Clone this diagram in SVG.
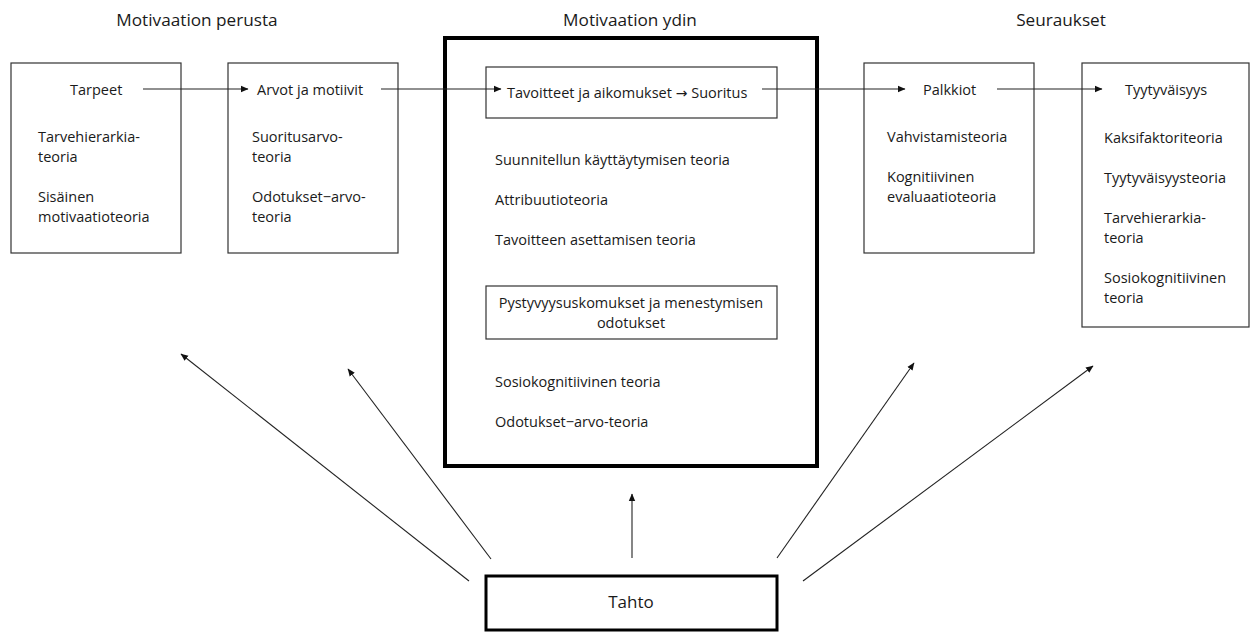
<svg xmlns="http://www.w3.org/2000/svg" width="1250" height="632" viewBox="0 0 1250 632">
  <defs>
    <marker id="arrow" markerWidth="8" markerHeight="8" refX="7" refY="4" orient="auto" markerUnits="userSpaceOnUse">
      <path d="M0,0.8 L7.5,4 L0,7.2 Z" fill="#111"/>
    </marker>
    <style>
      text { font-family: "Open Sans", "Noto Sans", "Liberation Sans", sans-serif; fill: #1a1a1a; }
      .t { font-size: 14.5px; }
      .h { font-size: 17.2px; }
      .tahto-label { font-size: 17px; }
      .mid { text-anchor: middle; }
      .sym { font-family: "DejaVu Sans", sans-serif; font-size: 14px; }
      .box { fill: #fff; stroke: #333; stroke-width: 1.2; }
      .thick { fill: #fff; stroke: #000; stroke-width: 4; }
      .tahto { fill: #fff; stroke: #000; stroke-width: 3; }
      .link { fill: none; stroke: #222; stroke-width: 1.1; marker-end: url(#arrow); }
    </style>
  </defs>
  <rect width="1250" height="632" fill="#fff"/>

  <!-- column headings -->
  <g id="headings">
    <text class="h mid" x="197" y="26">Motivaation perusta</text>
    <text class="h mid" x="630" y="26">Motivaation ydin</text>
    <text class="h mid" x="1061" y="26">Seuraukset</text>
  </g>

  <g id="tarpeet">
    <rect class="box" x="11" y="63" width="170" height="190"/>
    <text class="t" x="70" y="95">Tarpeet</text>
    <text class="t" x="38" y="142">Tarvehierarkia-</text>
    <text class="t" x="38" y="162">teoria</text>
    <text class="t" x="38" y="202">Sisäinen</text>
    <text class="t" x="38" y="222">motivaatioteoria</text>
  </g>

  <g id="arvot">
    <rect class="box" x="228" y="63" width="170" height="190"/>
    <text class="t" x="257" y="95">Arvot ja motiivit</text>
    <text class="t" x="252" y="142">Suoritusarvo-</text>
    <text class="t" x="252" y="162">teoria</text>
    <text class="t" x="252" y="202">Odotukset−arvo-</text>
    <text class="t" x="252" y="222">teoria</text>
  </g>

  <g id="ydin">
    <rect class="thick" x="445" y="38" width="372" height="428"/>
    <text class="t" x="495" y="165">Suunnitellun käyttäytymisen teoria</text>
    <text class="t" x="495" y="205">Attribuutioteoria</text>
    <text class="t" x="495" y="245">Tavoitteen asettamisen teoria</text>
    <text class="t" x="495" y="387">Sosiokognitiivinen teoria</text>
    <text class="t" x="495" y="427">Odotukset−arvo-teoria</text>
  </g>

  <g id="tavoitteet">
    <rect class="box" x="486" y="67" width="291" height="51"/>
    <text class="t" x="507" y="98">Tavoitteet ja aikomukset <tspan class="sym">→</tspan> Suoritus</text>
  </g>

  <g id="pystyvyys">
    <rect class="box" x="486" y="286" width="291" height="53"/>
    <text class="t mid" x="631" y="308">Pystyvyysuskomukset ja menestymisen</text>
    <text class="t mid" x="631" y="328">odotukset</text>
  </g>

  <g id="palkkiot">
    <rect class="box" x="864" y="63" width="170" height="190"/>
    <text class="t" x="923" y="95">Palkkiot</text>
    <text class="t" x="887" y="142">Vahvistamisteoria</text>
    <text class="t" x="887" y="182">Kognitiivinen</text>
    <text class="t" x="887" y="202">evaluaatioteoria</text>
  </g>

  <g id="tyytyvaisyys">
    <rect class="box" x="1082" y="63" width="167" height="264"/>
    <text class="t" x="1125" y="95">Tyytyväisyys</text>
    <text class="t" x="1104" y="143">Kaksifaktoriteoria</text>
    <text class="t" x="1104" y="183">Tyytyväisyysteoria</text>
    <text class="t" x="1104" y="223">Tarvehierarkia-</text>
    <text class="t" x="1104" y="243">teoria</text>
    <text class="t" x="1104" y="283">Sosiokognitiivinen</text>
    <text class="t" x="1104" y="303">teoria</text>
  </g>

  <g id="tahto">
    <rect class="tahto" x="486" y="576" width="291" height="54"/>
    <text class="tahto-label mid" x="631" y="608">Tahto</text>
  </g>

  <g id="connectors">
    <line class="link" x1="143" y1="89" x2="248" y2="89"/>
    <line class="link" x1="381" y1="89" x2="501" y2="89"/>
    <line class="link" x1="762" y1="89" x2="905" y2="89"/>
    <line class="link" x1="997" y1="89" x2="1102" y2="89"/>
    <line class="link" x1="469" y1="581" x2="181" y2="354"/>
    <line class="link" x1="491" y1="559" x2="348" y2="369"/>
    <line class="link" x1="632" y1="558" x2="632" y2="494"/>
    <line class="link" x1="777" y1="558" x2="914" y2="363"/>
    <line class="link" x1="803" y1="581" x2="1093" y2="366"/>
  </g>
</svg>
